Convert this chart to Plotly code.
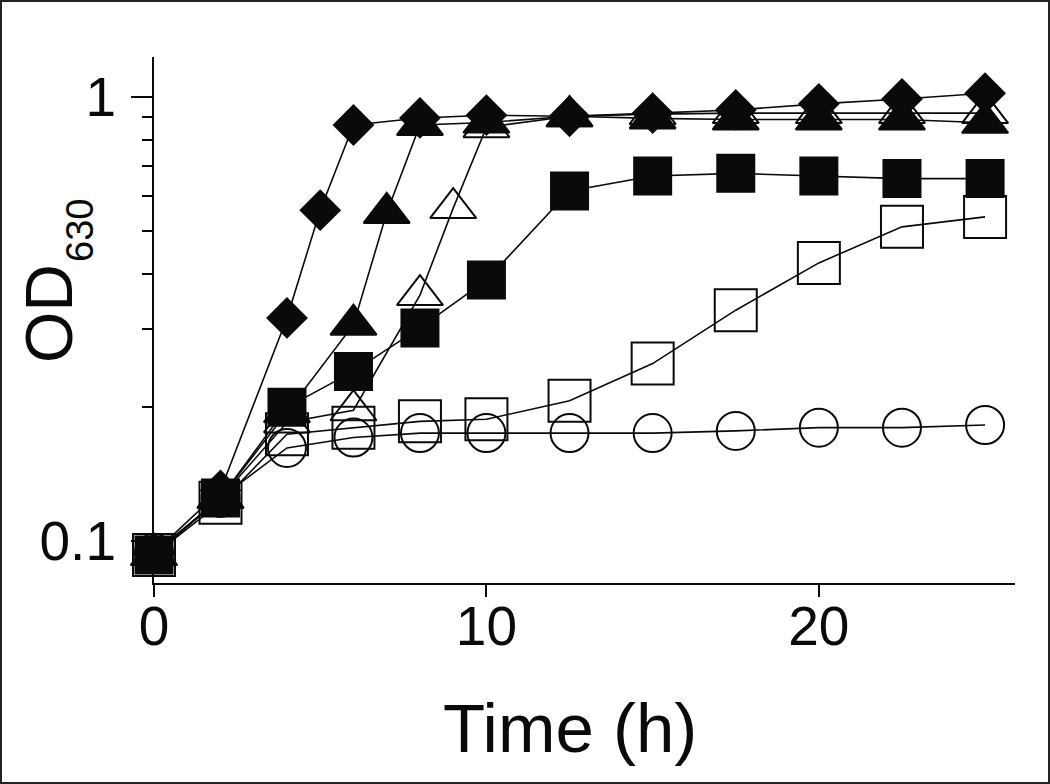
import plotly.graph_objects as go

# ---- data ----
t_diamond = [0, 2, 4, 5, 6, 8, 10, 12.5, 15, 17.5, 20, 22.5, 25]
od_diamond = [0.094, 0.13, 0.318, 0.556, 0.865, 0.897, 0.91, 0.905, 0.92, 0.935, 0.965, 0.99, 1.02]

t_tri_filled = [0, 2, 4, 6, 7, 8, 10, 12.5, 15, 17.5, 20, 22.5, 25]
od_tri_filled = [0.093, 0.125, 0.195, 0.307, 0.548, 0.865, 0.876, 0.905, 0.895, 0.89, 0.89, 0.89, 0.875]

t_tri_open = [0, 2, 4, 6, 8, 9, 10, 12.5, 15, 17.5, 20, 22.5, 25]
od_tri_open = [0.093, 0.125, 0.185, 0.197, 0.358, 0.562, 0.855, 0.905, 0.915, 0.92, 0.92, 0.92, 0.92]

t_sq_filled = [0, 2, 4, 6, 8, 10, 12.5, 15, 17.5, 20, 22.5, 25]
od_sq_filled = [0.093, 0.125, 0.2, 0.241, 0.302, 0.387, 0.614, 0.664, 0.673, 0.664, 0.655, 0.655]

t_sq_open = [0, 2, 4, 6, 8, 10, 12.5, 15, 17.5, 20, 22.5, 25]
od_sq_open = [0.093, 0.122, 0.174, 0.18, 0.186, 0.188, 0.207, 0.251, 0.331, 0.423, 0.51, 0.537]

t_circle = [0, 2, 4, 6, 8, 10, 12.5, 15, 17.5, 20, 22.5, 25]
od_circle = [0.094, 0.125, 0.162, 0.171, 0.175, 0.175, 0.175, 0.175, 0.177, 0.18, 0.18, 0.1825]

x_ticks = [0, 10, 20]
y_ticks = [0.1, 1]
y_tick_text = ["0.1", "1"]
y_minor = [0.2, 0.3, 0.4, 0.5, 0.6, 0.7, 0.8, 0.9]

FONT = "Arial, Liberation Sans, sans-serif"
BLACK = "#0a0a0a"

series = [
    (t_sq_open, od_sq_open, "square-open", 42),
    (t_circle, od_circle, "circle-open", 38),
    (t_tri_open, od_tri_open, "triangle-up-open", 40),
    (t_sq_filled, od_sq_filled, "square", 37),
    (t_tri_filled, od_tri_filled, "triangle-up", 40),
    (t_diamond, od_diamond, "diamond", 30),
]

fig = go.Figure()
for tx, ty, sym, size in series:
    fig.add_trace(go.Scatter(
        x=tx, y=ty, mode="lines+markers",
        line=dict(color=BLACK, width=1.6),
        marker=dict(symbol=sym, size=size, color=BLACK,
                    line=dict(color=BLACK, width=2)),
        cliponaxis=False, showlegend=False, hoverinfo="skip",
    ))

W, H = 1050, 784
L, R, T, B = 154, 35, 57, 201
PW, PH = W - L - R, H - T - B


def px_x(p):
    return (p - L) / PW


def px_y(p):
    return (H - B - p) / PH


fig.update_layout(
    width=W, height=H,
    margin=dict(l=L, r=R, t=T, b=B),
    paper_bgcolor="white", plot_bgcolor="white",
    font=dict(family=FONT, color=BLACK),
    xaxis=dict(
        range=[0, 25.9], showgrid=False, zeroline=False,
        showline=True, linecolor=BLACK, linewidth=2,
        ticks="outside", ticklen=12, tickwidth=2, tickcolor=BLACK,
        tickmode="array", tickvals=x_ticks, ticklabelstandoff=-18,
        tickfont=dict(size=55, family=FONT, color=BLACK),
    ),
    yaxis=dict(
        type="log", range=[-1.0946, 0.0901], showgrid=False, zeroline=False,
        showline=True, linecolor=BLACK, linewidth=2,
        ticks="outside", ticklen=21, tickwidth=2, tickcolor=BLACK,
        tickmode="array", tickvals=y_ticks, ticktext=y_tick_text,
        ticklabelstandoff=4,
        tickfont=dict(size=55, family=FONT, color=BLACK),
        minor=dict(ticks="outside", ticklen=10, tickwidth=2, tickcolor=BLACK,
                   tickmode="array", tickvals=y_minor, showgrid=False),
    ),
    annotations=[
        dict(text="Time (h)", xref="paper", yref="paper",
             x=px_x(570), y=px_y(728),
             xanchor="center", yanchor="middle", showarrow=False,
             font=dict(size=69, family=FONT, color=BLACK)),
        dict(text="OD", xref="paper", yref="paper",
             x=px_x(49), y=px_y(314),
             xanchor="center", yanchor="middle", textangle=-90, showarrow=False,
             font=dict(size=66, family=FONT, color=BLACK)),
        dict(text="630", xref="paper", yref="paper",
             x=px_x(80), y=px_y(231),
             xanchor="center", yanchor="middle", textangle=-90, showarrow=False,
             font=dict(size=38, family=FONT, color=BLACK)),
    ],
    shapes=[
        dict(type="rect", xref="paper", yref="paper",
             x0=px_x(1), x1=px_x(1049), y0=px_y(783), y1=px_y(1),
             line=dict(color="#222222", width=2), fillcolor="rgba(0,0,0,0)"),
    ],
)

fig.write_html("out.html", config={"displayModeBar": False},
               post_script="document.body.style.margin='0';")
